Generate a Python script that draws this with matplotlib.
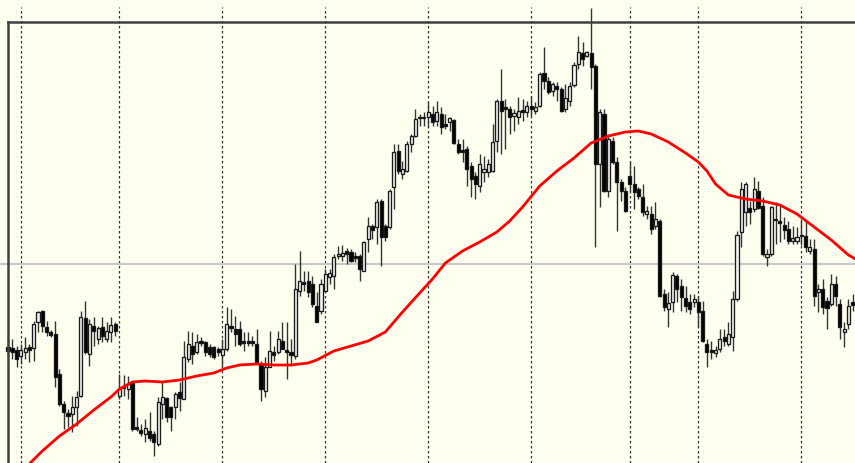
import matplotlib
matplotlib.use("Agg")
import matplotlib.pyplot as plt
import numpy as np

# OHLC candles, one per bar (price points)
opens = [152, 151, 149, 143, 147, 152, 151, 177, 188, 172, 167, 165, 125, 95, 86, 85, 92, 103, 181, 145,
         173, 160, 172, 160, 167, 175, 103, 113, 110, 117, 72, 69, 65, 68, 65, 55, 95, 101, 92, 92,
         107, 100, 140, 153, 147, 158, 157, 152, 152, 150, 144, 150, 173, 170, 170, 158, 158, 158, 155, 135,
         108, 132, 147, 147, 158, 149, 147, 143, 208, 217, 218, 215, 193, 188, 208, 222, 223, 243, 243, 248,
         247, 243, 243, 228, 260, 273, 272, 298, 273, 272, 312, 348, 325, 328, 355, 363, 381, 381, 382, 385,
         378, 385, 375, 377, 379, 355, 349, 350, 333, 323, 313, 327, 327, 328, 358, 398, 392, 390, 383, 382,
         389, 387, 393, 388, 393, 426, 418, 408, 413, 410, 390, 398, 414, 435, 446, 443, 446, 433, 335, 385,
         308, 358, 337, 317, 308, 323, 315, 310, 302, 285, 285, 273, 278, 205, 190, 197, 223, 213, 201, 197,
         197, 197, 188, 155, 149, 146, 150, 162, 155, 162, 200, 267, 287, 291, 290, 308, 293, 242, 245, 280,
         278, 274, 270, 258, 258, 264, 263, 248, 250, 207, 210, 198, 195, 215, 195, 167, 175, 197]
highs = [161, 160, 153, 155, 162, 155, 178, 188, 189, 178, 169, 178, 130, 98, 90, 103, 108, 188, 198, 180,
         182, 173, 182, 177, 182, 177, 125, 124, 123, 118, 82, 75, 80, 87, 68, 102, 117, 102, 93, 107,
         117, 158, 168, 167, 165, 162, 158, 155, 153, 152, 160, 192, 190, 183, 178, 167, 167, 163, 170, 138,
         142, 168, 153, 168, 177, 177, 160, 235, 248, 228, 228, 223, 207, 220, 230, 230, 245, 253, 254, 251,
         250, 247, 245, 258, 282, 275, 300, 300, 275, 310, 355, 355, 338, 358, 365, 390, 385, 387, 397, 393,
         398, 392, 385, 382, 380, 360, 360, 353, 337, 327, 345, 343, 340, 375, 400, 430, 400, 393, 390, 402,
         400, 398, 403, 397, 427, 452, 422, 417, 417, 412, 415, 417, 437, 463, 457, 448, 491, 435, 390, 390,
         363, 362, 342, 320, 312, 337, 333, 312, 315, 293, 293, 297, 280, 210, 207, 227, 225, 220, 213, 205,
         205, 203, 198, 160, 158, 153, 170, 170, 177, 208, 268, 317, 317, 298, 322, 318, 302, 250, 293, 297,
         293, 282, 278, 273, 272, 280, 278, 260, 260, 215, 220, 202, 225, 223, 200, 177, 200, 205]
lows = [142, 140, 132, 135, 140, 137, 138, 167, 167, 163, 162, 112, 93, 70, 72, 67, 73, 102, 145, 133,
        153, 155, 157, 157, 157, 163, 100, 103, 100, 68, 68, 63, 57, 58, 43, 53, 80, 77, 68, 80,
        88, 100, 137, 135, 145, 153, 143, 142, 140, 143, 132, 148, 167, 153, 153, 148, 153, 153, 135, 98,
        102, 132, 138, 145, 150, 120, 133, 140, 203, 208, 202, 192, 177, 185, 207, 215, 210, 240, 238, 235,
        237, 237, 218, 228, 247, 260, 255, 233, 258, 270, 290, 325, 320, 327, 347, 362, 373, 373, 372, 373,
        373, 365, 370, 368, 355, 345, 337, 313, 302, 300, 307, 317, 322, 327, 347, 345, 350, 365, 368, 375,
        378, 382, 383, 385, 392, 410, 405, 403, 398, 387, 387, 393, 412, 430, 433, 442, 410, 252, 292, 307,
        302, 335, 268, 298, 287, 307, 290, 300, 283, 280, 265, 270, 202, 188, 172, 187, 197, 188, 187, 185,
        192, 172, 157, 132, 140, 142, 147, 153, 153, 148, 198, 252, 273, 275, 287, 290, 243, 233, 243, 255,
        257, 260, 255, 255, 255, 254, 247, 245, 193, 187, 185, 170, 193, 193, 160, 152, 170, 188]
closes = [148, 147, 140, 149, 151, 149, 175, 187, 173, 167, 164, 122, 95, 87, 83, 92, 102, 182, 147, 175,
          168, 171, 163, 168, 174, 168, 110, 111, 115, 70, 70, 66, 71, 61, 57, 97, 102, 82, 82, 105,
          101, 142, 155, 145, 157, 156, 147, 145, 142, 147, 150, 175, 171, 165, 155, 156, 156, 156, 137, 110,
          132, 148, 144, 160, 150, 147, 144, 210, 218, 215, 207, 195, 177, 215, 225, 226, 242, 245, 246, 245,
          238, 241, 230, 257, 273, 269, 297, 262, 262, 308, 347, 328, 330, 355, 363, 380, 382, 382, 387, 377,
          387, 372, 373, 381, 356, 347, 347, 330, 320, 315, 335, 330, 335, 357, 398, 388, 390, 382, 386, 388,
          387, 393, 390, 392, 425, 418, 407, 415, 410, 388, 401, 413, 434, 447, 440, 447, 432, 335, 387, 308,
          360, 337, 317, 308, 288, 315, 307, 303, 287, 288, 270, 280, 203, 192, 196, 224, 210, 202, 193, 190,
          200, 187, 158, 147, 147, 149, 160, 158, 165, 200, 264, 310, 315, 287, 310, 291, 245, 245, 292, 279,
          276, 269, 258, 261, 262, 263, 252, 252, 203, 210, 192, 191, 215, 203, 172, 170, 193, 194]

# Moving average, sampled along the bars
ma_bars = [0, 4, 8, 12, 16, 20, 24, 26, 29, 32, 36, 40, 44, 48, 51, 54, 58, 62, 66, 70,
           72, 76, 80, 84, 88, 92, 96, 99, 102, 106, 110, 114, 117, 120, 124, 128, 132, 136, 140, 144,
           147, 150, 154, 158, 161, 163, 165, 168, 172, 176, 180, 184, 188, 192, 196, 198]
ma_values = [13, 31, 48, 63, 75, 89, 102, 110, 117, 118, 117, 119, 123, 126, 131, 134, 135, 134, 134, 136,
             139, 148, 153, 158, 167, 187, 206, 220, 236, 248, 257, 267, 278, 292, 313, 328, 341, 356, 363, 367,
             368, 365, 357, 346, 337, 328, 315, 304, 300, 298, 294, 285, 272, 259, 244, 239]

# Bars where the session separators fall
grid_bars = [3, 26, 50, 74, 98, 122, 145, 161, 185]
level_price = 235
frame_price = 477.5

BG = "#FFFFF0"
W, H = 855, 464
px_per_bar = 4.288
y_bottom, y_top = 36, 500

fig = plt.figure(figsize=(W / 100, H / 100), dpi=100)
fig.patch.set_facecolor(BG)
ax = fig.add_axes([0, 0, 1, 1])
ax.set_facecolor(BG)
ax.set_xlim(-8 / px_per_bar, (W - 8) / px_per_bar)
ax.set_ylim(y_bottom, y_top)
ax.set_axis_off()

o = np.array(opens, float)
h = np.array(highs, float)
l = np.array(lows, float)
c = np.array(closes, float)
x = np.arange(len(o))

# separators and reference level
grid_top = (492 - y_bottom) / (y_top - y_bottom)
for g in grid_bars:
    ax.axvline(g, ymin=0, ymax=grid_top, color="#333333", lw=0.9,
               ls=(0, (2, 2)), zorder=1)
ax.axhline(level_price, color="#C8C8C8", lw=1.5, zorder=1)

# wicks
ax.vlines(x, l, h, color="#333333", lw=1.0, zorder=2)

# bodies
bull = c >= o
bottoms = np.minimum(o, c)
heights = np.maximum(np.abs(c - o), 1.2)
fills = np.where(bull, "#F4F4F4", "#000000")
ax.bar(x, heights, bottom=bottoms, width=0.72, color=fills,
       edgecolor="#1a1a1a", linewidth=0.95, zorder=3)

# moving average
ax.plot(ma_bars, ma_values, color="#FF0000", lw=2.0, zorder=4,
        solid_joinstyle="round", solid_capstyle="round")

# chart frame
frame_top = (frame_price - y_bottom) / (y_top - y_bottom)
ax.axhline(frame_price, xmin=7.5 / W, xmax=1, color="#404040", lw=1.8, zorder=5)
ax.plot([7.5 / W, 7.5 / W], [0, frame_top], transform=ax.transAxes,
        color="#404040", lw=1.8, zorder=5, clip_on=False)

fig.savefig("out.png", dpi=100, facecolor=BG)
